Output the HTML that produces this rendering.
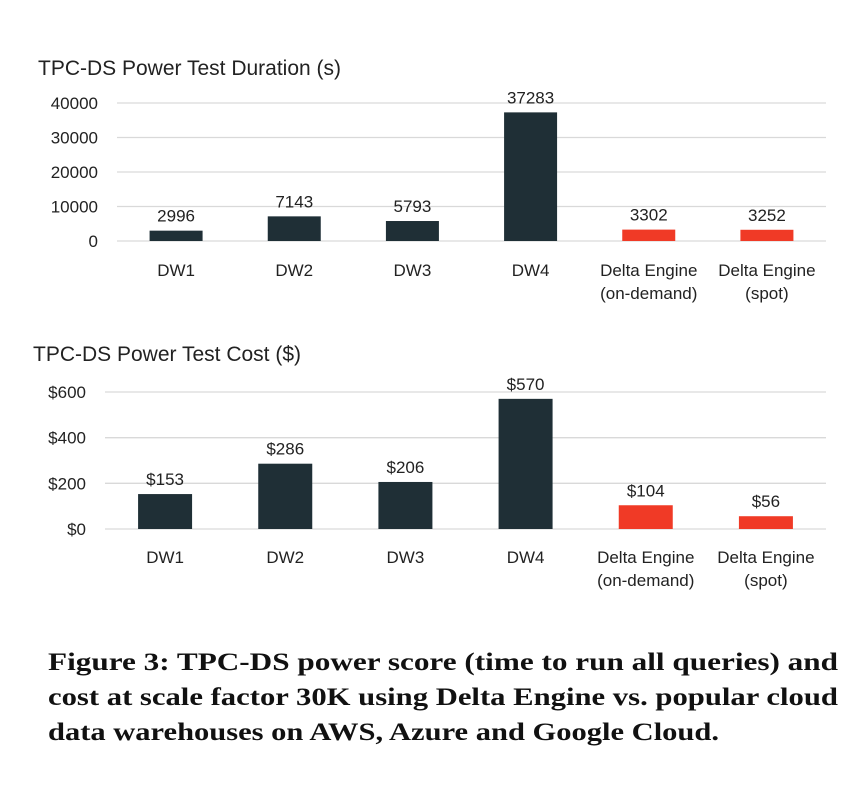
<!DOCTYPE html>
<html><head><meta charset="utf-8"><style>
html,body{margin:0;padding:0;background:#fff;}
svg{display:block;font-family:"Liberation Sans",sans-serif;}
</style></head><body>
<svg id="c" width="860" height="798" viewBox="0 0 860 798">
<text x="38" y="75" font-size="21" fill="#222">TPC-DS Power Test Duration (s)</text>
<text x="33" y="361" font-size="21" fill="#222">TPC-DS Power Test Cost ($)</text>
<g font-family="Liberation Serif, serif" font-weight="bold" font-size="25" fill="#111">
<text x="48" y="670" textLength="790" lengthAdjust="spacingAndGlyphs">Figure 3: TPC-DS power score (time to run all queries) and</text>
<text x="48" y="705" textLength="790" lengthAdjust="spacingAndGlyphs">cost at scale factor 30K using Delta Engine vs. popular cloud</text>
<text x="48" y="740" textLength="671" lengthAdjust="spacingAndGlyphs">data warehouses on AWS, Azure and Google Cloud.</text>
</g>
<g id="top"></g><g id="bot"></g>
</svg>
<script>
const categories = ["DW1","DW2","DW3","DW4","Delta Engine|(on-demand)","Delta Engine|(spot)"];
const durationValues = [2996,7143,5793,37283,3302,3252];
const costValues = [153,286,206,570,104,56];
const durationTicks = [0,10000,20000,30000,40000];
const costTicks = [0,200,400,600];
const highlight = [false,false,false,false,true,true];
const NS="http://www.w3.org/2000/svg";
function mk(parent,tag,attrs,text){const e=document.createElementNS(NS,tag);for(const k in attrs)e.setAttribute(k,attrs[k]);if(text!==undefined)e.textContent=text;parent.appendChild(e);return e;}
function chart(g,cfg){
  const y=v=>cfg.y0-(v-cfg.min)/(cfg.max-cfg.min)*(cfg.y0-cfg.y1);
  const bw=(cfg.x1-cfg.x0)/categories.length;
  const x=i=>cfg.x0+bw*(i+0.5);
  cfg.ticks.forEach(t=>{
    const l=mk(g,"line",{x1:cfg.x0,x2:cfg.x1,y1:y(t),y2:y(t),stroke:"#d9d9d9","stroke-width":1.3});
    
    
    const tx=mk(g,"text",{x:cfg.x0-19,y:y(t)+6,"font-size":17,"text-anchor":"end",fill:"#222"},cfg.fmt(t));
    
    
  });
  cfg.values.forEach((v,i)=>{
    const r=mk(g,"rect",{x:x(i)-cfg.barW/2,y:y(v),width:cfg.barW,height:y(0)-y(v),fill:highlight[i]?"#f03a26":"#1f2f36"});
    
    
    const lb=mk(g,"text",{x:x(i),y:y(v)-9,"font-size":17,"text-anchor":"middle",fill:"#222"},cfg.fmt(v));
    
    
    const parts=categories[i].split('|');
    parts.forEach((p,j)=>{
      const c=mk(g,"text",{x:x(i),y:cfg.labelY+j*23,"font-size":17,"text-anchor":"middle",fill:"#222"},p);
      
      
    });
  });
}
chart(document.getElementById('top'),{x0:117,x1:826,y0:241,y1:103,min:0,max:40000,ticks:durationTicks,values:durationValues,barW:53,labelY:276,fmt:v=>String(v)});
chart(document.getElementById('bot'),{x0:105,x1:826,y0:529,y1:392,min:0,max:600,ticks:costTicks,values:costValues,barW:54,labelY:563,fmt:v=>"$"+v});
</script>
</body></html>
